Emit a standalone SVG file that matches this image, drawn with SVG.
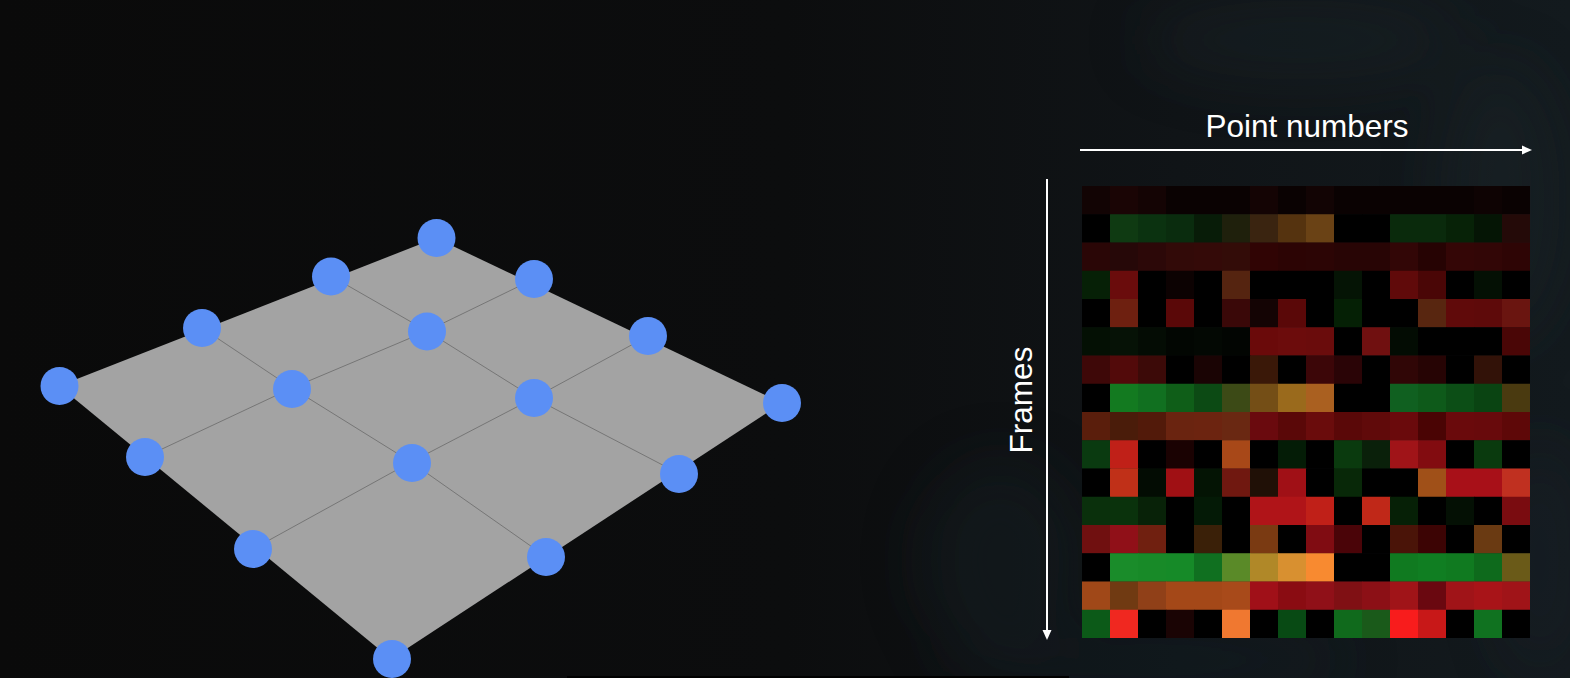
<svg xmlns="http://www.w3.org/2000/svg" width="1570" height="678" viewBox="0 0 1570 678">
  <defs>
    <linearGradient id="bg" x1="0" y1="0" x2="1" y2="0">
      <stop offset="0" stop-color="#0a0a0a"/>
      <stop offset="0.5" stop-color="#0c0d0e"/>
      <stop offset="0.75" stop-color="#101417"/>
      <stop offset="1" stop-color="#131a1e"/>
    </linearGradient>
    <filter id="blur" x="-50%" y="-50%" width="200%" height="200%">
      <feGaussianBlur stdDeviation="30"/>
    </filter>
    <marker id="arrowH" markerUnits="userSpaceOnUse" markerWidth="11" markerHeight="11" refX="0" refY="5" orient="auto">
      <path d="M0,0.5 L10,5 L0,9.5 z" fill="#ffffff"/>
    </marker>
    <style>
      .lbl { font-family: "Liberation Sans", Arial, sans-serif; font-size: 31.5px; fill: #ffffff; }
      .axis { stroke: #ffffff; stroke-width: 2; fill: none; }
      .grid { stroke: #767676; stroke-width: 1; fill: none; }
      .dot { fill: #5b8ff5; }
    </style>
  </defs>

  <!-- background -->
  <rect x="0" y="0" width="1570" height="678" fill="url(#bg)"/>
  <g filter="url(#blur)" opacity="0.4">
    <ellipse cx="1300" cy="40" rx="160" ry="40" fill="#1c252b"/>
    <ellipse cx="1500" cy="200" rx="60" ry="140" fill="#1c262c"/>
    <ellipse cx="1000" cy="560" rx="80" ry="100" fill="#182025"/>
    <ellipse cx="1150" cy="660" rx="200" ry="30" fill="#19222a"/>
    <ellipse cx="1540" cy="560" rx="40" ry="120" fill="#1a2329"/>
  </g>
  <rect x="567" y="676" width="502" height="2" fill="#000000"/>

  <!-- plane -->
  <g id="plane">
    <polygon points="59,386 436,238 782,403 391,659" fill="#a3a3a3"/>
    <polyline class="grid" points="331,276 427,331 534,398 678,473"/>
    <polyline class="grid" points="202,328 292,388 411,462 545,556"/>
    <polyline class="grid" points="534,279 427,331 292,388 145,457"/>
    <polyline class="grid" points="648,336 534,398 411,462 253,549"/>
  </g>

  <!-- points -->
  <g id="points">
    <circle class="dot" cx="436.5" cy="238" r="19"/>
    <circle class="dot" cx="331" cy="276.5" r="19"/>
    <circle class="dot" cx="534" cy="279" r="19"/>
    <circle class="dot" cx="202" cy="328" r="19"/>
    <circle class="dot" cx="427" cy="331.5" r="19"/>
    <circle class="dot" cx="648" cy="336" r="19"/>
    <circle class="dot" cx="59.5" cy="386" r="19"/>
    <circle class="dot" cx="292" cy="389" r="19"/>
    <circle class="dot" cx="534" cy="398" r="19"/>
    <circle class="dot" cx="782" cy="403" r="19"/>
    <circle class="dot" cx="145" cy="457" r="19"/>
    <circle class="dot" cx="412" cy="463" r="19"/>
    <circle class="dot" cx="679" cy="474" r="19"/>
    <circle class="dot" cx="253" cy="549" r="19"/>
    <circle class="dot" cx="546" cy="557" r="19"/>
    <circle class="dot" cx="392" cy="659" r="19"/>
  </g>

  <!-- axes -->
  <g id="connectors">
    <line class="axis" x1="1080" y1="150" x2="1522" y2="150" marker-end="url(#arrowH)"/>
    <line class="axis" x1="1047" y1="179" x2="1047" y2="630" marker-end="url(#arrowH)"/>
  </g>
  <g id="label-points">
    <text class="lbl" x="1307" y="137" text-anchor="middle">Point numbers</text>
  </g>
  <g id="label-frames">
    <text class="lbl" transform="translate(1032,400) rotate(-90)" x="0" y="0" text-anchor="middle">Frames</text>
  </g>

  <!-- heatmap -->
  <g id="heatmap">
    <g transform="translate(1082,186)">
      <!-- row 0 -->
      <rect x="0" y="0" width="28.5" height="28.5" fill="#120404"/>
      <rect x="28" y="0" width="28.5" height="28.5" fill="#1a0505"/>
      <rect x="56" y="0" width="28.5" height="28.5" fill="#140404"/>
      <rect x="84" y="0" width="28.5" height="28.5" fill="#0a0202"/>
      <rect x="112" y="0" width="28.5" height="28.5" fill="#0a0202"/>
      <rect x="140" y="0" width="28.5" height="28.5" fill="#0a0202"/>
      <rect x="168" y="0" width="28.5" height="28.5" fill="#140404"/>
      <rect x="196" y="0" width="28.5" height="28.5" fill="#0a0202"/>
      <rect x="224" y="0" width="28.5" height="28.5" fill="#120404"/>
      <rect x="252" y="0" width="28.5" height="28.5" fill="#0a0202"/>
      <rect x="280" y="0" width="28.5" height="28.5" fill="#0a0202"/>
      <rect x="308" y="0" width="28.5" height="28.5" fill="#0a0202"/>
      <rect x="336" y="0" width="28.5" height="28.5" fill="#0a0202"/>
      <rect x="364" y="0" width="28.5" height="28.5" fill="#0a0202"/>
      <rect x="392" y="0" width="28.5" height="28.5" fill="#0e0303"/>
      <rect x="420" y="0" width="28" height="28.5" fill="#0a0202"/>
      <!-- row 1 -->
      <rect x="0" y="28.25" width="28.5" height="28.5" fill="#000000"/>
      <rect x="28" y="28.25" width="28.5" height="28.5" fill="#0f3a12"/>
      <rect x="56" y="28.25" width="28.5" height="28.5" fill="#0b3210"/>
      <rect x="84" y="28.25" width="28.5" height="28.5" fill="#0a2c0e"/>
      <rect x="112" y="28.25" width="28.5" height="28.5" fill="#081c08"/>
      <rect x="140" y="28.25" width="28.5" height="28.5" fill="#1f200c"/>
      <rect x="168" y="28.25" width="28.5" height="28.5" fill="#3a2410"/>
      <rect x="196" y="28.25" width="28.5" height="28.5" fill="#55330f"/>
      <rect x="224" y="28.25" width="28.5" height="28.5" fill="#6a4215"/>
      <rect x="252" y="28.25" width="28.5" height="28.5" fill="#000000"/>
      <rect x="280" y="28.25" width="28.5" height="28.5" fill="#000000"/>
      <rect x="308" y="28.25" width="28.5" height="28.5" fill="#0a2a0c"/>
      <rect x="336" y="28.25" width="28.5" height="28.5" fill="#0a2a0c"/>
      <rect x="364" y="28.25" width="28.5" height="28.5" fill="#072207"/>
      <rect x="392" y="28.25" width="28.5" height="28.5" fill="#051505"/>
      <rect x="420" y="28.25" width="28" height="28.5" fill="#240a08"/>
      <!-- row 2 -->
      <rect x="0" y="56.5" width="28.5" height="28.5" fill="#2a0606"/>
      <rect x="28" y="56.5" width="28.5" height="28.5" fill="#260808"/>
      <rect x="56" y="56.5" width="28.5" height="28.5" fill="#2c0808"/>
      <rect x="84" y="56.5" width="28.5" height="28.5" fill="#320a08"/>
      <rect x="112" y="56.5" width="28.5" height="28.5" fill="#340a08"/>
      <rect x="140" y="56.5" width="28.5" height="28.5" fill="#330c08"/>
      <rect x="168" y="56.5" width="28.5" height="28.5" fill="#300404"/>
      <rect x="196" y="56.5" width="28.5" height="28.5" fill="#2c0404"/>
      <rect x="224" y="56.5" width="28.5" height="28.5" fill="#2c0505"/>
      <rect x="252" y="56.5" width="28.5" height="28.5" fill="#280505"/>
      <rect x="280" y="56.5" width="28.5" height="28.5" fill="#280505"/>
      <rect x="308" y="56.5" width="28.5" height="28.5" fill="#320606"/>
      <rect x="336" y="56.5" width="28.5" height="28.5" fill="#260303"/>
      <rect x="364" y="56.5" width="28.5" height="28.5" fill="#340606"/>
      <rect x="392" y="56.5" width="28.5" height="28.5" fill="#320606"/>
      <rect x="420" y="56.5" width="28" height="28.5" fill="#2e0505"/>
      <!-- row 3 -->
      <rect x="0" y="84.75" width="28.5" height="28.5" fill="#062006"/>
      <rect x="28" y="84.75" width="28.5" height="28.5" fill="#6a0c0c"/>
      <rect x="56" y="84.75" width="28.5" height="28.5" fill="#000000"/>
      <rect x="84" y="84.75" width="28.5" height="28.5" fill="#0c0202"/>
      <rect x="112" y="84.75" width="28.5" height="28.5" fill="#000000"/>
      <rect x="140" y="84.75" width="28.5" height="28.5" fill="#552410"/>
      <rect x="168" y="84.75" width="28.5" height="28.5" fill="#000000"/>
      <rect x="196" y="84.75" width="28.5" height="28.5" fill="#000000"/>
      <rect x="224" y="84.75" width="28.5" height="28.5" fill="#000000"/>
      <rect x="252" y="84.75" width="28.5" height="28.5" fill="#051405"/>
      <rect x="280" y="84.75" width="28.5" height="28.5" fill="#000000"/>
      <rect x="308" y="84.75" width="28.5" height="28.5" fill="#600a0a"/>
      <rect x="336" y="84.75" width="28.5" height="28.5" fill="#4a0606"/>
      <rect x="364" y="84.75" width="28.5" height="28.5" fill="#000000"/>
      <rect x="392" y="84.75" width="28.5" height="28.5" fill="#041004"/>
      <rect x="420" y="84.75" width="28" height="28.5" fill="#000000"/>
      <!-- row 4 -->
      <rect x="0" y="113" width="28.5" height="28.5" fill="#000000"/>
      <rect x="28" y="113" width="28.5" height="28.5" fill="#6e2010"/>
      <rect x="56" y="113" width="28.5" height="28.5" fill="#000000"/>
      <rect x="84" y="113" width="28.5" height="28.5" fill="#5a0808"/>
      <rect x="112" y="113" width="28.5" height="28.5" fill="#000000"/>
      <rect x="140" y="113" width="28.5" height="28.5" fill="#3a0808"/>
      <rect x="168" y="113" width="28.5" height="28.5" fill="#140404"/>
      <rect x="196" y="113" width="28.5" height="28.5" fill="#5a0808"/>
      <rect x="224" y="113" width="28.5" height="28.5" fill="#000000"/>
      <rect x="252" y="113" width="28.5" height="28.5" fill="#052005"/>
      <rect x="280" y="113" width="28.5" height="28.5" fill="#000000"/>
      <rect x="308" y="113" width="28.5" height="28.5" fill="#000000"/>
      <rect x="336" y="113" width="28.5" height="28.5" fill="#582610"/>
      <rect x="364" y="113" width="28.5" height="28.5" fill="#600a0a"/>
      <rect x="392" y="113" width="28.5" height="28.5" fill="#5e0a0a"/>
      <rect x="420" y="113" width="28" height="28.5" fill="#6a1510"/>
      <!-- row 5 -->
      <rect x="0" y="141.25" width="28.5" height="28.5" fill="#041004"/>
      <rect x="28" y="141.25" width="28.5" height="28.5" fill="#061206"/>
      <rect x="56" y="141.25" width="28.5" height="28.5" fill="#040c04"/>
      <rect x="84" y="141.25" width="28.5" height="28.5" fill="#020602"/>
      <rect x="112" y="141.25" width="28.5" height="28.5" fill="#030803"/>
      <rect x="140" y="141.25" width="28.5" height="28.5" fill="#020502"/>
      <rect x="168" y="141.25" width="28.5" height="28.5" fill="#6a0a0a"/>
      <rect x="196" y="141.25" width="28.5" height="28.5" fill="#6c0c0c"/>
      <rect x="224" y="141.25" width="28.5" height="28.5" fill="#6a0c0c"/>
      <rect x="252" y="141.25" width="28.5" height="28.5" fill="#000000"/>
      <rect x="280" y="141.25" width="28.5" height="28.5" fill="#701010"/>
      <rect x="308" y="141.25" width="28.5" height="28.5" fill="#030c03"/>
      <rect x="336" y="141.25" width="28.5" height="28.5" fill="#000000"/>
      <rect x="364" y="141.25" width="28.5" height="28.5" fill="#000000"/>
      <rect x="392" y="141.25" width="28.5" height="28.5" fill="#000000"/>
      <rect x="420" y="141.25" width="28" height="28.5" fill="#4a0606"/>
      <!-- row 6 -->
      <rect x="0" y="169.5" width="28.5" height="28.5" fill="#3e0808"/>
      <rect x="28" y="169.5" width="28.5" height="28.5" fill="#520a0a"/>
      <rect x="56" y="169.5" width="28.5" height="28.5" fill="#3c0a08"/>
      <rect x="84" y="169.5" width="28.5" height="28.5" fill="#000000"/>
      <rect x="112" y="169.5" width="28.5" height="28.5" fill="#1a0404"/>
      <rect x="140" y="169.5" width="28.5" height="28.5" fill="#000000"/>
      <rect x="168" y="169.5" width="28.5" height="28.5" fill="#3a1808"/>
      <rect x="196" y="169.5" width="28.5" height="28.5" fill="#000000"/>
      <rect x="224" y="169.5" width="28.5" height="28.5" fill="#3c0608"/>
      <rect x="252" y="169.5" width="28.5" height="28.5" fill="#2a0406"/>
      <rect x="280" y="169.5" width="28.5" height="28.5" fill="#000000"/>
      <rect x="308" y="169.5" width="28.5" height="28.5" fill="#300606"/>
      <rect x="336" y="169.5" width="28.5" height="28.5" fill="#260404"/>
      <rect x="364" y="169.5" width="28.5" height="28.5" fill="#000000"/>
      <rect x="392" y="169.5" width="28.5" height="28.5" fill="#321208"/>
      <rect x="420" y="169.5" width="28" height="28.5" fill="#000000"/>
      <!-- row 7 -->
      <rect x="0" y="197.75" width="28.5" height="28.5" fill="#000000"/>
      <rect x="28" y="197.75" width="28.5" height="28.5" fill="#137a20"/>
      <rect x="56" y="197.75" width="28.5" height="28.5" fill="#117020"/>
      <rect x="84" y="197.75" width="28.5" height="28.5" fill="#0f5e18"/>
      <rect x="112" y="197.75" width="28.5" height="28.5" fill="#0c4a14"/>
      <rect x="140" y="197.75" width="28.5" height="28.5" fill="#3c4a16"/>
      <rect x="168" y="197.75" width="28.5" height="28.5" fill="#744e16"/>
      <rect x="196" y="197.75" width="28.5" height="28.5" fill="#9a6a1c"/>
      <rect x="224" y="197.75" width="28.5" height="28.5" fill="#aa6020"/>
      <rect x="252" y="197.75" width="28.5" height="28.5" fill="#000000"/>
      <rect x="280" y="197.75" width="28.5" height="28.5" fill="#000000"/>
      <rect x="308" y="197.75" width="28.5" height="28.5" fill="#106020"/>
      <rect x="336" y="197.75" width="28.5" height="28.5" fill="#0e5a1a"/>
      <rect x="364" y="197.75" width="28.5" height="28.5" fill="#0c4e16"/>
      <rect x="392" y="197.75" width="28.5" height="28.5" fill="#0a4412"/>
      <rect x="420" y="197.75" width="28" height="28.5" fill="#4a3a10"/>
      <!-- row 8 -->
      <rect x="0" y="226" width="28.5" height="28.5" fill="#5a1e0c"/>
      <rect x="28" y="226" width="28.5" height="28.5" fill="#4a1c0a"/>
      <rect x="56" y="226" width="28.5" height="28.5" fill="#521a0a"/>
      <rect x="84" y="226" width="28.5" height="28.5" fill="#6a2410"/>
      <rect x="112" y="226" width="28.5" height="28.5" fill="#6c2410"/>
      <rect x="140" y="226" width="28.5" height="28.5" fill="#6a2812"/>
      <rect x="168" y="226" width="28.5" height="28.5" fill="#6a0a0e"/>
      <rect x="196" y="226" width="28.5" height="28.5" fill="#5a0808"/>
      <rect x="224" y="226" width="28.5" height="28.5" fill="#6a0c0c"/>
      <rect x="252" y="226" width="28.5" height="28.5" fill="#5a0808"/>
      <rect x="280" y="226" width="28.5" height="28.5" fill="#600a0a"/>
      <rect x="308" y="226" width="28.5" height="28.5" fill="#6a0a0c"/>
      <rect x="336" y="226" width="28.5" height="28.5" fill="#4a0404"/>
      <rect x="364" y="226" width="28.5" height="28.5" fill="#6a0a0c"/>
      <rect x="392" y="226" width="28.5" height="28.5" fill="#680a0c"/>
      <rect x="420" y="226" width="28" height="28.5" fill="#5e0808"/>
      <!-- row 9 -->
      <rect x="0" y="254.25" width="28.5" height="28.5" fill="#0a3a10"/>
      <rect x="28" y="254.25" width="28.5" height="28.5" fill="#c02018"/>
      <rect x="56" y="254.25" width="28.5" height="28.5" fill="#000000"/>
      <rect x="84" y="254.25" width="28.5" height="28.5" fill="#1a0202"/>
      <rect x="112" y="254.25" width="28.5" height="28.5" fill="#000000"/>
      <rect x="140" y="254.25" width="28.5" height="28.5" fill="#a84818"/>
      <rect x="168" y="254.25" width="28.5" height="28.5" fill="#000000"/>
      <rect x="196" y="254.25" width="28.5" height="28.5" fill="#041c06"/>
      <rect x="224" y="254.25" width="28.5" height="28.5" fill="#000000"/>
      <rect x="252" y="254.25" width="28.5" height="28.5" fill="#0a3a0e"/>
      <rect x="280" y="254.25" width="28.5" height="28.5" fill="#0a200a"/>
      <rect x="308" y="254.25" width="28.5" height="28.5" fill="#a01418"/>
      <rect x="336" y="254.25" width="28.5" height="28.5" fill="#820c10"/>
      <rect x="364" y="254.25" width="28.5" height="28.5" fill="#000000"/>
      <rect x="392" y="254.25" width="28.5" height="28.5" fill="#0a3a0e"/>
      <rect x="420" y="254.25" width="28" height="28.5" fill="#000000"/>
      <!-- row 10 -->
      <rect x="0" y="282.5" width="28.5" height="28.5" fill="#000000"/>
      <rect x="28" y="282.5" width="28.5" height="28.5" fill="#c03018"/>
      <rect x="56" y="282.5" width="28.5" height="28.5" fill="#030c03"/>
      <rect x="84" y="282.5" width="28.5" height="28.5" fill="#a01014"/>
      <rect x="112" y="282.5" width="28.5" height="28.5" fill="#041404"/>
      <rect x="140" y="282.5" width="28.5" height="28.5" fill="#701810"/>
      <rect x="168" y="282.5" width="28.5" height="28.5" fill="#201006"/>
      <rect x="196" y="282.5" width="28.5" height="28.5" fill="#a01016"/>
      <rect x="224" y="282.5" width="28.5" height="28.5" fill="#000000"/>
      <rect x="252" y="282.5" width="28.5" height="28.5" fill="#082808"/>
      <rect x="280" y="282.5" width="28.5" height="28.5" fill="#000000"/>
      <rect x="308" y="282.5" width="28.5" height="28.5" fill="#000000"/>
      <rect x="336" y="282.5" width="28.5" height="28.5" fill="#a05018"/>
      <rect x="364" y="282.5" width="28.5" height="28.5" fill="#a81018"/>
      <rect x="392" y="282.5" width="28.5" height="28.5" fill="#a81018"/>
      <rect x="420" y="282.5" width="28" height="28.5" fill="#c03020"/>
      <!-- row 11 -->
      <rect x="0" y="310.75" width="28.5" height="28.5" fill="#0a300c"/>
      <rect x="28" y="310.75" width="28.5" height="28.5" fill="#0a320c"/>
      <rect x="56" y="310.75" width="28.5" height="28.5" fill="#082208"/>
      <rect x="84" y="310.75" width="28.5" height="28.5" fill="#000000"/>
      <rect x="112" y="310.75" width="28.5" height="28.5" fill="#041a06"/>
      <rect x="140" y="310.75" width="28.5" height="28.5" fill="#000000"/>
      <rect x="168" y="310.75" width="28.5" height="28.5" fill="#b01418"/>
      <rect x="196" y="310.75" width="28.5" height="28.5" fill="#b01418"/>
      <rect x="224" y="310.75" width="28.5" height="28.5" fill="#c02018"/>
      <rect x="252" y="310.75" width="28.5" height="28.5" fill="#000000"/>
      <rect x="280" y="310.75" width="28.5" height="28.5" fill="#c02818"/>
      <rect x="308" y="310.75" width="28.5" height="28.5" fill="#062006"/>
      <rect x="336" y="310.75" width="28.5" height="28.5" fill="#000000"/>
      <rect x="364" y="310.75" width="28.5" height="28.5" fill="#041004"/>
      <rect x="392" y="310.75" width="28.5" height="28.5" fill="#000000"/>
      <rect x="420" y="310.75" width="28" height="28.5" fill="#7a0c10"/>
      <!-- row 12 -->
      <rect x="0" y="339" width="28.5" height="28.5" fill="#701010"/>
      <rect x="28" y="339" width="28.5" height="28.5" fill="#901018"/>
      <rect x="56" y="339" width="28.5" height="28.5" fill="#702010"/>
      <rect x="84" y="339" width="28.5" height="28.5" fill="#000000"/>
      <rect x="112" y="339" width="28.5" height="28.5" fill="#3a2008"/>
      <rect x="140" y="339" width="28.5" height="28.5" fill="#000000"/>
      <rect x="168" y="339" width="28.5" height="28.5" fill="#7a3a12"/>
      <rect x="196" y="339" width="28.5" height="28.5" fill="#000000"/>
      <rect x="224" y="339" width="28.5" height="28.5" fill="#800c12"/>
      <rect x="252" y="339" width="28.5" height="28.5" fill="#4a0408"/>
      <rect x="280" y="339" width="28.5" height="28.5" fill="#000000"/>
      <rect x="308" y="339" width="28.5" height="28.5" fill="#4a1408"/>
      <rect x="336" y="339" width="28.5" height="28.5" fill="#3c0404"/>
      <rect x="364" y="339" width="28.5" height="28.5" fill="#000000"/>
      <rect x="392" y="339" width="28.5" height="28.5" fill="#6a3a12"/>
      <rect x="420" y="339" width="28" height="28.5" fill="#000000"/>
      <!-- row 13 -->
      <rect x="0" y="367.25" width="28.5" height="28.5" fill="#000000"/>
      <rect x="28" y="367.25" width="28.5" height="28.5" fill="#1a8c2a"/>
      <rect x="56" y="367.25" width="28.5" height="28.5" fill="#188a28"/>
      <rect x="84" y="367.25" width="28.5" height="28.5" fill="#168a28"/>
      <rect x="112" y="367.25" width="28.5" height="28.5" fill="#107020"/>
      <rect x="140" y="367.25" width="28.5" height="28.5" fill="#5a8a28"/>
      <rect x="168" y="367.25" width="28.5" height="28.5" fill="#b08828"/>
      <rect x="196" y="367.25" width="28.5" height="28.5" fill="#d89030"/>
      <rect x="224" y="367.25" width="28.5" height="28.5" fill="#f88a30"/>
      <rect x="252" y="367.25" width="28.5" height="28.5" fill="#000000"/>
      <rect x="280" y="367.25" width="28.5" height="28.5" fill="#000000"/>
      <rect x="308" y="367.25" width="28.5" height="28.5" fill="#107a20"/>
      <rect x="336" y="367.25" width="28.5" height="28.5" fill="#107e22"/>
      <rect x="364" y="367.25" width="28.5" height="28.5" fill="#107a20"/>
      <rect x="392" y="367.25" width="28.5" height="28.5" fill="#0e6a1c"/>
      <rect x="420" y="367.25" width="28" height="28.5" fill="#6a5a18"/>
      <!-- row 14 -->
      <rect x="0" y="395.5" width="28.5" height="28.5" fill="#a04818"/>
      <rect x="28" y="395.5" width="28.5" height="28.5" fill="#703a12"/>
      <rect x="56" y="395.5" width="28.5" height="28.5" fill="#904018"/>
      <rect x="84" y="395.5" width="28.5" height="28.5" fill="#a44818"/>
      <rect x="112" y="395.5" width="28.5" height="28.5" fill="#a44818"/>
      <rect x="140" y="395.5" width="28.5" height="28.5" fill="#a84a1a"/>
      <rect x="168" y="395.5" width="28.5" height="28.5" fill="#a01018"/>
      <rect x="196" y="395.5" width="28.5" height="28.5" fill="#8a0c12"/>
      <rect x="224" y="395.5" width="28.5" height="28.5" fill="#901018"/>
      <rect x="252" y="395.5" width="28.5" height="28.5" fill="#801014"/>
      <rect x="280" y="395.5" width="28.5" height="28.5" fill="#8c1016"/>
      <rect x="308" y="395.5" width="28.5" height="28.5" fill="#a01418"/>
      <rect x="336" y="395.5" width="28.5" height="28.5" fill="#6a0810"/>
      <rect x="364" y="395.5" width="28.5" height="28.5" fill="#a01418"/>
      <rect x="392" y="395.5" width="28.5" height="28.5" fill="#a81418"/>
      <rect x="420" y="395.5" width="28" height="28.5" fill="#a01418"/>
      <!-- row 15 -->
      <rect x="0" y="423.75" width="28.5" height="28.25" fill="#0c5a18"/>
      <rect x="28" y="423.75" width="28.5" height="28.25" fill="#f02820"/>
      <rect x="56" y="423.75" width="28.5" height="28.25" fill="#000000"/>
      <rect x="84" y="423.75" width="28.5" height="28.25" fill="#1a0404"/>
      <rect x="112" y="423.75" width="28.5" height="28.25" fill="#000000"/>
      <rect x="140" y="423.75" width="28.5" height="28.25" fill="#f07830"/>
      <rect x="168" y="423.75" width="28.5" height="28.25" fill="#000000"/>
      <rect x="196" y="423.75" width="28.5" height="28.25" fill="#084a14"/>
      <rect x="224" y="423.75" width="28.5" height="28.25" fill="#000000"/>
      <rect x="252" y="423.75" width="28.5" height="28.25" fill="#106a1c"/>
      <rect x="280" y="423.75" width="28.5" height="28.25" fill="#1a5a1a"/>
      <rect x="308" y="423.75" width="28.5" height="28.25" fill="#f81c1c"/>
      <rect x="336" y="423.75" width="28.5" height="28.25" fill="#c81818"/>
      <rect x="364" y="423.75" width="28.5" height="28.25" fill="#000000"/>
      <rect x="392" y="423.75" width="28.5" height="28.25" fill="#107220"/>
      <rect x="420" y="423.75" width="28" height="28.25" fill="#000000"/>
    </g>
  </g>
</svg>
